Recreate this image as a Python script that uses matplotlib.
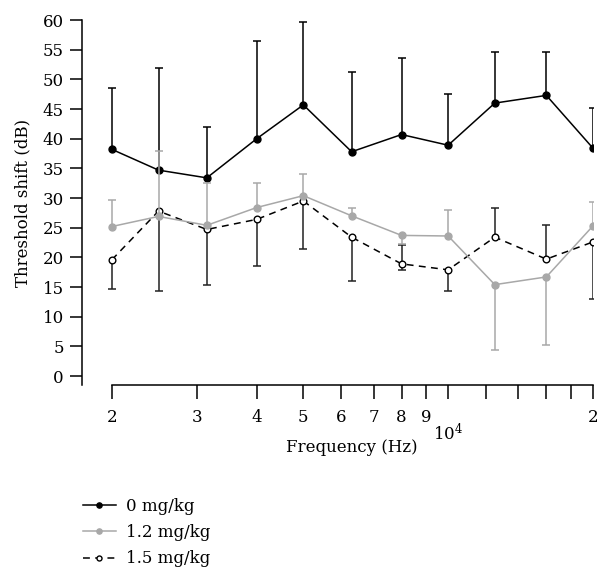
import matplotlib
matplotlib.use("Agg")
import matplotlib.pyplot as plt
import numpy as np
from matplotlib.ticker import FixedLocator, FixedFormatter

plt.rcParams["font.family"] = ["DejaVu Serif"]
plt.rcParams["mathtext.fontset"] = "dejavuserif"
plt.rcParams["font.size"] = 12

# frequencies (Hz)
freq = [2000, 2500, 3150, 4000, 5000, 6300, 8000, 10000, 12500, 16000, 20000]

# 0 mg/kg
mean_0 = [38.2, 34.7, 33.4, 40.0, 45.7, 37.8, 40.7, 38.9, 46.0, 47.3, 38.4]
up_0 = [10.4, 17.3, 8.5, 16.4, 13.9, 13.5, 12.9, 8.7, 8.6, 7.3, 6.8]
lo_0 = [0, 0, 0, 0, 0, 0, 0, 0, 0, 0, 0]

# 1.2 mg/kg
mean_12 = [25.2, 26.9, 25.4, 28.4, 30.4, 27.0, 23.7, 23.6, 15.4, 16.7, 25.3]
up_12 = [4.4, 11.1, 7.2, 4.2, 3.7, 1.4, 0, 4.3, 0, 0, 4.0]
lo_12 = [0, 0, 0, 0, 0, 0, 1.4, 0, 11.1, 11.4, 0]

# 1.5 mg/kg
mean_15 = [19.6, 27.8, 24.7, 26.4, 29.5, 23.4, 18.9, 17.9, 23.4, 19.7, 22.6]
up_15 = [0, 0, 0, 0, 0, 0, 3.2, 0, 4.9, 5.7, 0]
lo_15 = [4.9, 13.5, 9.3, 7.8, 8.1, 7.4, 1.0, 3.5, 0, 0, 9.6]

labels = ["0 mg/kg", "1.2 mg/kg", "1.5 mg/kg"]

tick_vals = [2000, 3000, 4000, 5000, 6000, 7000, 8000, 9000,
             12000, 14000, 16000, 18000, 20000]
tick_text = ["2", "3", "4", "5", "6", "7", "8", "9", "", "", "", "", "2"]

GRAY = "#a8a8a8"

fig = plt.figure(figsize=(5.98, 5.71), dpi=100)
ax = fig.add_axes([0.1371, 0.3257, 0.8545, 0.6392])


def draw_series(y, lo, hi, ecol, zo, **kw):
    x = np.array(freq, dtype=float)
    y = np.array(y, dtype=float)
    lo = np.array(lo, dtype=float)
    hi = np.array(hi, dtype=float)
    ax.errorbar(x, y, yerr=[lo, hi], fmt="none", ecolor=ecol,
                elinewidth=1.1, capsize=0, zorder=zo)
    m = hi > 0
    ax.plot(x[m], (y + hi)[m], ls="none", marker="_", ms=6, mew=1.1,
            color=ecol, zorder=zo)
    m = lo > 0
    ax.plot(x[m], (y - lo)[m], ls="none", marker="_", ms=6, mew=1.1,
            color=ecol, zorder=zo)
    line, = ax.plot(x, y, zorder=zo + 0.5, **kw)
    return line


h0 = draw_series(mean_0, lo_0, up_0, "black", 3,
                 color="black", lw=1.1, marker="o", ms=5)
h15 = draw_series(mean_15, lo_15, up_15, "#222222", 4,
                  color="black", lw=1.1, ls=(0, (4.5, 3.5)), marker="o",
                  ms=4.8, mfc="white", mec="black", mew=1.0)
h12 = draw_series(mean_12, lo_12, up_12, GRAY, 5,
                  color=GRAY, lw=1.1, marker="o", ms=5)

ax.set_xscale("log")
ax.set_xlim(1733, 20000)
ax.set_ylim(-1.52, 60)

ax.spines["top"].set_visible(False)
ax.spines["right"].set_visible(False)
ax.spines["bottom"].set_bounds(2000, 20000)
ax.spines["left"].set_linewidth(1.1)
ax.spines["bottom"].set_linewidth(1.1)

ax.set_yticks(range(0, 61, 5))
ax.tick_params(axis="y", direction="out", length=9, width=1.1, pad=4)

ax.xaxis.set_major_locator(FixedLocator(tick_vals))
ax.xaxis.set_major_formatter(FixedFormatter(tick_text))
ax.xaxis.set_minor_locator(FixedLocator([10000]))
ax.xaxis.set_minor_formatter(FixedFormatter(["$10^4$"]))
ax.tick_params(axis="x", which="major", direction="out", length=10,
               width=1.1, pad=7)
ax.tick_params(axis="x", which="minor", direction="out", length=10,
               width=1.1, pad=17)

ax.set_ylabel("Threshold shift (dB)")
ax.yaxis.set_label_coords(-0.1, 0.5)
ax.set_xlabel("Frequency (Hz)")
ax.xaxis.set_label_coords(0.529, -0.148)

fig.legend([h0, h12, h15], labels, loc="center left",
           bbox_to_anchor=(0.138, 0.067), frameon=False, borderpad=0,
           borderaxespad=0, handlelength=2.0, handletextpad=0.6,
           labelspacing=0.55, markerscale=0.75)

fig.savefig("out.png", dpi=100)
